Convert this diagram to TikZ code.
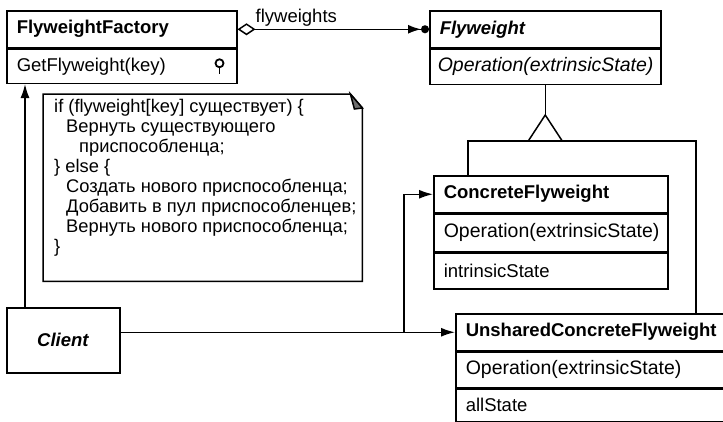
\documentclass[tikz,border=0pt]{standalone}
\usepackage{fontspec}
\setmainfont{Liberation Sans}
\usepackage{tikz}
\usetikzlibrary{shapes,arrows,arrows.meta,positioning,calc}
\definecolor{foldgray}{RGB}{110,110,110}

\tikzset{
  umlrow/.style={draw, line width=1.5pt, anchor=north west, align=left, inner xsep=10pt, inner ysep=0pt, font=\fontsize{18.5}{20}\selectfont},
  opfont/.style={font=\fontsize{19.5}{22}\selectfont},
  umlline/.style={line width=1.5pt},
  umlarrow/.style={line width=1.5pt, -{Latex[length=14pt,width=9pt]}},
}

\begin{document}
\begin{tikzpicture}[x=1pt, y=-1pt]
        % Flyweight structure diagram
        \path[use as bounding box, fill=white] (0,0) rectangle (723,421);

        \node[umlrow, text width=210pt, minimum height=37pt] (factory) at (6,10) {\textbf{FlyweightFactory}};
        \node[umlrow, text width=210pt, minimum height=34pt, below=0pt of factory] (factoryop) {GetFlyweight(key)};

        \node[umlrow, text width=211pt, minimum height=37pt] (fw) at (429,10) {\textbf{\textit{Flyweight}}};
        \node[umlrow, opfont, inner xsep=8pt, text width=215pt, minimum height=35pt, below=0pt of fw] (fwop) {\textit{Operation(extrinsicState)}};

        \node[umlrow, text width=214pt, minimum height=37pt] (cfw) at (433,175) {\textbf{ConcreteFlyweight}};
        \node[umlrow, opfont, text width=214pt, minimum height=37pt, below=0pt of cfw] (cfwop) {Operation(extrinsicState)};
        \node[umlrow, text width=214pt, minimum height=36pt, below=0pt of cfwop] (cfwst) {intrinsicState};

        \node[umlrow, text width=270pt, minimum height=37pt] (ucfw) at (455,313) {\textbf{UnsharedConcreteFlyweight}};
        \node[umlrow, opfont, text width=270pt, minimum height=35pt, below=0pt of ucfw] (ucfwop) {Operation(extrinsicState)};
        \node[umlrow, text width=270pt, minimum height=33pt, below=0pt of ucfwop] (ucfwst) {allState};

        \node[umlrow, align=center, text width=93pt, minimum height=65pt] (client) at (6,307) {\textbf{\textit{Client}}};

        % note with folded corner
        \node[anchor=north west, minimum width=319pt, minimum height=187pt, inner sep=0pt] (note) at (43,94) {};
        \node[anchor=north west, align=left, inner sep=0pt, font=\fontsize{18.3}{20}\selectfont] (notetext) at ($(note.north west)+(11,5)$) {%
          if (flyweight[key] существует) \{\\
          \hspace*{12pt}Вернуть существующего\\
          \hspace*{25pt}приспособленца;\\
          \} else \{\\
          \hspace*{12pt}Создать нового приспособленца;\\
          \hspace*{12pt}Добавить в пул приспособленцев;\\
          \hspace*{12pt}Вернуть нового приспособленца;\\
          \}};
        \draw[umlline] (note.north west) -- ($(note.north east)+(-12,0)$) -- ($(note.north east)+(0,14)$) -- (note.south east) -- (note.south west) -- cycle;
        \filldraw[umlline, fill=foldgray] ($(note.north east)+(-12,0)$) -- ($(note.north east)+(-8,15)$) -- ($(note.north east)+(0,14)$) -- cycle;
        \draw[umlline] ($(factoryop.south east)+(-23,0)$) -- ($(factoryop.south east)+(-23,0)$ |- note.north);

        % pin mark
        \draw[line width=1.8pt] ($(factoryop.east)+(-18,-3)$) circle[radius=4pt];
        \draw[line width=1.8pt] ($(factoryop.east)+(-18,1)$) -- ++(0,7);

        % aggregation
        \draw[line width=1.5pt, {Diamond[open,length=18pt,width=12pt]}-{Latex[length=13pt,width=9pt]Circle[length=8pt]}] (factory.east) -- (fw.west);
        \node[anchor=base west, inner sep=0pt, font=\fontsize{18.5}{20}\selectfont] (fwlabel) at ($(factory.east)+(18,-7)$) {flyweights};

        % inheritance
        \coordinate (apex) at ($(fwop.south)+(0,30)$);
        \coordinate (base) at ($(apex)+(0,26)$);
        \draw[umlline] (fwop.south) -- (apex);
        \draw[umlline] (apex) -- ($(base)+(-17,0)$) -- ($(base)+(17,0)$) -- cycle;
        \coordinate (cfwtop) at ($(cfw.north west)+(35,0)$);
        \coordinate (ucfwtop) at ($(ucfw.north west)+(241,0)$);
        \draw[umlline] (cfwtop) |- (base) -| (ucfwtop);

        % client references
        \coordinate (cstart) at ($(client.north west)+(19,0)$);
        \draw[umlarrow] (cstart) -- (cstart |- factoryop.south);
        \draw[umlarrow] (client.east |- ucfw.west) -- (ucfw.west);
        \coordinate (junction) at (404,0 |- ucfw.west);
        \draw[umlarrow] (junction) |- (cfw.west);
    \end{tikzpicture}
\end{document}
